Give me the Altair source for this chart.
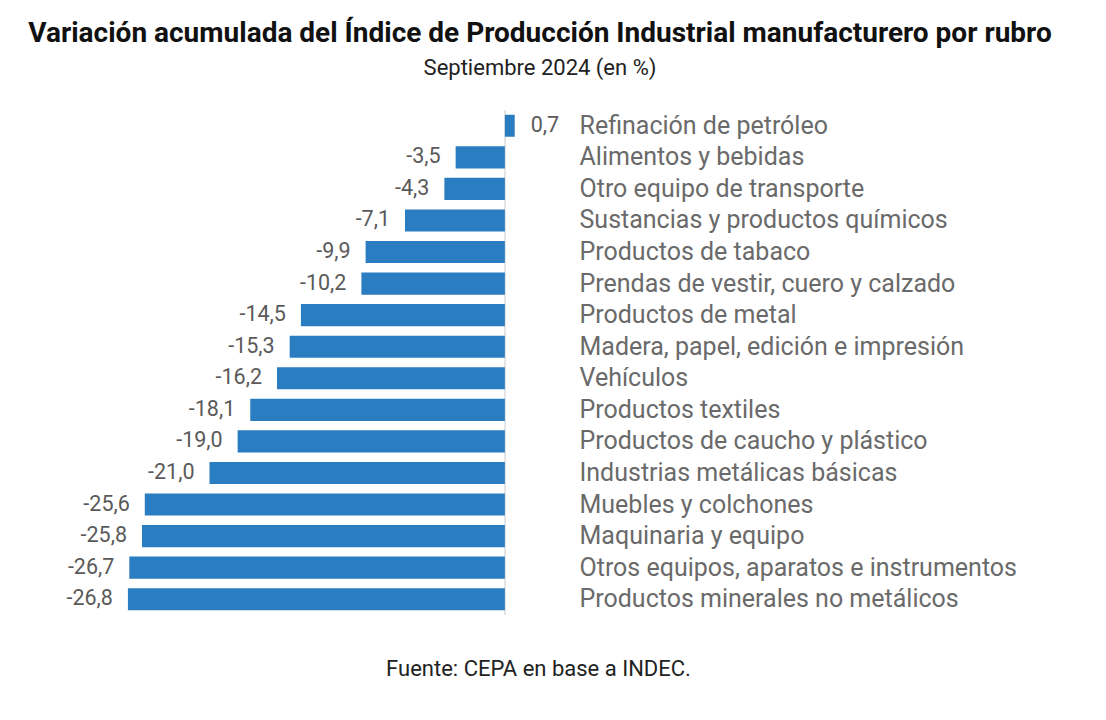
import altair as alt
import pandas as pd

categories = [
    "Refinación de petróleo",
    "Alimentos y bebidas",
    "Otro equipo de transporte",
    "Sustancias y productos químicos",
    "Productos de tabaco",
    "Prendas de vestir, cuero y calzado",
    "Productos de metal",
    "Madera, papel, edición e impresión",
    "Vehículos",
    "Productos textiles",
    "Productos de caucho y plástico",
    "Industrias metálicas básicas",
    "Muebles y colchones",
    "Maquinaria y equipo",
    "Otros equipos, aparatos e instrumentos",
    "Productos minerales no metálicos",
]
values = [0.7, -3.5, -4.3, -7.1, -9.9, -10.2, -14.5, -15.3, -16.2, -18.1,
          -19.0, -21.0, -25.6, -25.8, -26.7, -26.8]

title_text = "Variación acumulada del Índice de Producción Industrial manufacturero por rubro"
subtitle_text = "Septiembre 2024 (en %)"
source_text = "Fuente: CEPA en base a INDEC."

df = pd.DataFrame({"rubro": categories, "valor": values})

W = 429
H = 505
LEFT = 96
TOP = 102

base = alt.Chart(df).transform_calculate(
    etiqueta="replace(replace(format(datum.valor, '.1f'), '.', ','), '\u2212', '-')"
)

y_enc = alt.Y(
    "rubro:N",
    sort=categories,
    scale=alt.Scale(paddingInner=0.3, paddingOuter=0.15),
    axis=alt.Axis(
        orient="right",
        title=None,
        ticks=False,
        domain=False,
        labelAlign="left",
        labelPadding=46,
        labelFontSize=25,
        labelFont="Roboto",
        labelColor="#6a6a6a",
        labelLimit=700,
    ),
)

x_enc = alt.X(
    "valor:Q",
    scale=alt.Scale(domain=[-28.5, 2], nice=False, zero=False),
    axis=alt.Axis(
        labels=False,
        ticks=False,
        domain=False,
        grid=False,
        title=source_text,
        titleX=538 - (LEFT + 8),
        titleY=675 - (TOP + 8 + H),
        titleAlign="center",
        titleBaseline="alphabetic",
        titleFont="Roboto",
        titleFontSize=22,
        titleFontWeight="normal",
        titleColor="#222222",
    ),
)

bars = base.mark_bar(color="#2a7dc0").encode(x=x_enc, y=y_enc)

zero_rule = alt.Chart(df).mark_rule(color="#e4e4e4", strokeWidth=1).encode(
    x=alt.datum(0)
)

neg_text = base.transform_filter("datum.valor < 0").mark_text(
    align="right", baseline="middle", dx=-15, fontSize=21.5, font="Roboto",
    color="#5a5a5a"
).encode(x="valor:Q", y=alt.Y("rubro:N", sort=categories), text="etiqueta:N")

pos_text = base.transform_filter("datum.valor >= 0").mark_text(
    align="left", baseline="middle", dx=16, fontSize=21.5, font="Roboto",
    color="#5a5a5a"
).encode(x="valor:Q", y=alt.Y("rubro:N", sort=categories), text="etiqueta:N")

chart = alt.layer(zero_rule, bars, neg_text, pos_text).properties(
    width=W,
    height=H,
    background="white",
    title=alt.TitleParams(
        text=title_text,
        subtitle=subtitle_text,
        anchor="middle",
        frame="group",
        dx=540 - (LEFT + 8 + W / 2),
        font="Roboto",
        fontSize=28,
        fontWeight="bold",
        color="#111111",
        subtitleFont="Roboto",
        subtitleFontSize=22,
        subtitleColor="#222222",
        subtitlePadding=10,
        offset=31,
    ),
    autosize=alt.AutoSizeParams(type="none"),
    padding={"left": LEFT, "top": TOP, "right": 1090 - LEFT - W, "bottom": 95},
).configure_view(stroke="transparent")

chart.save("out.html", embed_options={"renderer": "svg", "actions": False})
